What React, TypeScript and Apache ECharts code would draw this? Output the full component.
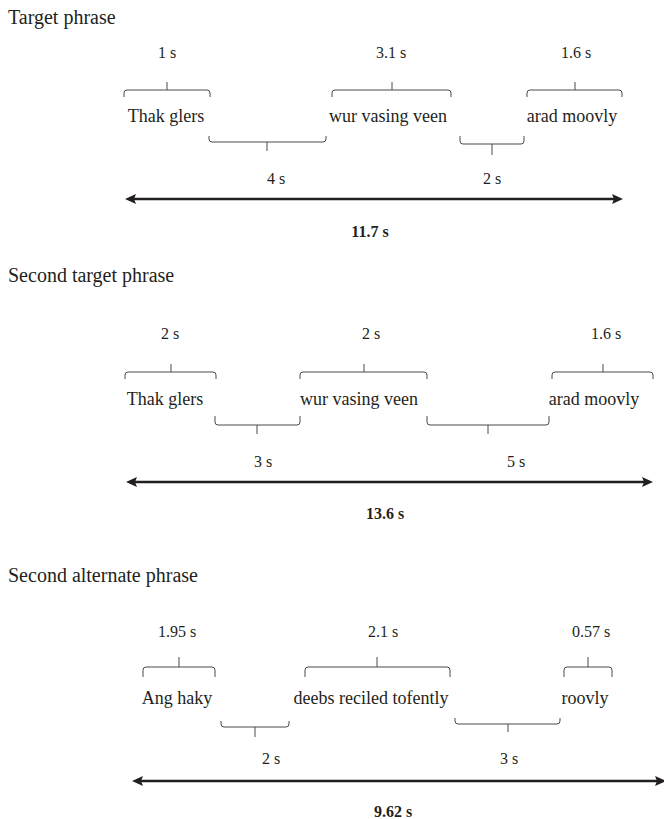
import React, { useEffect, useRef } from "react";
import * as echarts from "echarts";

// ---- data ----
const titles = ["Target phrase", "Second target phrase", "Second alternate phrase"];
const words1 = ["Thak glers", "wur vasing veen", "arad moovly"];
const words2 = ["Thak glers", "wur vasing veen", "arad moovly"];
const words3 = ["Ang haky", "deebs reciled tofently", "roovly"];
const wordSec1 = [1, 3.1, 1.6];
const wordSec2 = [2, 2, 1.6];
const wordSec3 = [1.95, 2.1, 0.57];
const gapSec1 = [4, 2];
const gapSec2 = [3, 5];
const gapSec3 = [2, 3];
const totalSec = [11.7, 13.6, 9.62];

// ---- layout (pixel positions in the 664 x 819 frame) ----
const titleY = [17, 275, 575];
const durY = [52, 333, 631];
const durX = [[167, 391, 576], [170, 371, 606], [177, 383, 591]];
const upBr = [
  [[124, 210, 167], [332, 451, 392], [527, 622, 575]],
  [[125, 216, 171], [300, 427, 364], [552, 653, 603]],
  [[143, 215, 179], [305, 450, 377], [564, 612, 588]],
];
const upY = [[90, 97, 82], [372, 379, 364], [667, 677, 657]]; // line, ends, tick top
const wordY = [116, 399, 698];
const wordX = [[166, 388, 572], [165, 359, 594], [177, 371, 585]];
const lowBr = [
  [[209, 326, 267, 142, 136, 151], [460, 524, 492, 144, 136, 155]],
  [[215, 300, 257, 425, 416, 434], [427, 549, 488, 425, 416, 434]],
  [[221, 289, 255, 727, 721, 737], [455, 560, 508, 724, 718, 732]],
];
const gapY = [178, 461, 758];
const gapX = [[276, 492], [263, 516], [271, 509]];
const arrowY = [199, 482, 781];
const arrowX = [[125, 623], [126, 653], [132, 666]];
const totalY = [231, 513, 811];
const totalX = [370, 385, 393];

const FONT = "Liberation Serif";
const INK = "#231f20";

type TextItem = { x: number; y: number; text: string; size: number; bold?: boolean; align: string };

export default function App() {
  const ref = useRef<HTMLDivElement>(null);
  useEffect(() => {
    if (!ref.current) return;
    const chart = echarts.init(ref.current, undefined, { renderer: "svg" });
    const words = [words1, words2, words3];
    const wordSec = [wordSec1, wordSec2, wordSec3];
    const gapSec = [gapSec1, gapSec2, gapSec3];

    const texts: TextItem[] = [];
    const brackets: number[][] = [];
    const arrows: number[][] = [];
    for (let p = 0; p < 3; p++) {
      texts.push({ x: 8, y: titleY[p], text: titles[p], size: 20, align: "left" });
      for (let i = 0; i < 3; i++) {
        texts.push({ x: durX[p][i], y: durY[p], text: `${wordSec[p][i]} s`, size: 16, align: "center" });
        texts.push({ x: wordX[p][i], y: wordY[p], text: words[p][i], size: 18, align: "center" });
        const b = upBr[p][i];
        brackets.push([b[0], b[1], b[2], upY[p][0], upY[p][1], upY[p][2]]);
      }
      for (let i = 0; i < 2; i++) {
        texts.push({ x: gapX[p][i], y: gapY[p], text: `${gapSec[p][i]} s`, size: 16, align: "center" });
        brackets.push(lowBr[p][i]);
      }
      texts.push({ x: totalX[p], y: totalY[p], text: `${totalSec[p]} s`, size: 16, bold: true, align: "center" });
      arrows.push([arrowX[p][0], arrowX[p][1], arrowY[p]]);
    }

    const option: any = {
      animation: false,
      textStyle: { fontFamily: FONT },
      grid: { left: 0, right: 0, top: 0, bottom: 0 },
      xAxis: { type: "value", min: 0, max: 664, show: false },
      yAxis: { type: "value", min: 0, max: 819, inverse: true, show: false },
      series: [
        {
          type: "custom",
          name: "brackets",
          data: brackets,
          silent: true,
          renderItem: (params: any, api: any) => {
            const x1 = api.value(0), x2 = api.value(1), xt = api.value(2);
            const yl = api.value(3), ye = api.value(4), yt = api.value(5);
            const A = api.coord([x1, ye]);
            const L = api.coord([x1, yl]);
            const R = api.coord([x2, yl]);
            const B = api.coord([x2, ye]);
            const T0 = api.coord([xt, yl]);
            const T1 = api.coord([xt, yt]);
            const s = ye > yl ? 1 : -1;
            const r = 3;
            const d =
              `M${A[0]},${A[1]} L${A[0]},${L[1] + s * r} Q${L[0]},${L[1]} ${L[0] + r},${L[1]} ` +
              `L${R[0] - r},${R[1]} Q${R[0]},${R[1]} ${R[0]},${R[1] + s * r} L${B[0]},${B[1]} ` +
              `M${T0[0]},${T0[1]} L${T1[0]},${T1[1]}`;
            return {
              type: "path",
              shape: { pathData: d },
              style: { stroke: "#4a4a4a", fill: "none", lineWidth: 1 },
            };
          },
        },
        {
          type: "custom",
          name: "arrows",
          data: arrows,
          silent: true,
          renderItem: (params: any, api: any) => {
            const a = api.coord([api.value(0), api.value(2)]);
            const b = api.coord([api.value(1), api.value(2)]);
            const hl = 11, hw = 5;
            return {
              type: "group",
              children: [
                {
                  type: "line",
                  shape: { x1: a[0] + 6, y1: a[1], x2: b[0] - 6, y2: b[1] },
                  style: { stroke: INK, lineWidth: 2.5 },
                },
                {
                  type: "polygon",
                  shape: { points: [[a[0], a[1]], [a[0] + hl, a[1] - hw], [a[0] + hl - 2, a[1]], [a[0] + hl, a[1] + hw]] },
                  style: { fill: INK },
                },
                {
                  type: "polygon",
                  shape: { points: [[b[0], b[1]], [b[0] - hl, b[1] - hw], [b[0] - hl + 2, b[1]], [b[0] - hl, b[1] + hw]] },
                  style: { fill: INK },
                },
              ],
            };
          },
        },
        {
          type: "custom",
          name: "texts",
          data: texts.map((t) => [t.x, t.y]),
          silent: true,
          renderItem: (params: any, api: any) => {
            const t = texts[params.dataIndex];
            const c = api.coord([api.value(0), api.value(1)]);
            return {
              type: "text",
              x: c[0],
              y: c[1],
              style: {
                text: t.text,
                fill: INK,
                fontFamily: FONT,
                fontSize: t.size,
                fontWeight: t.bold ? "bold" : "normal",
                align: t.align,
                verticalAlign: "middle",
              },
            };
          },
        },
      ],
    };
    chart.setOption(option);
    return () => chart.dispose();
  }, []);
  return (
    <div
      ref={ref}
      style={{ position: "absolute", left: 0, top: 0, width: 664, height: 819, background: "#fff" }}
    />
  );
}
